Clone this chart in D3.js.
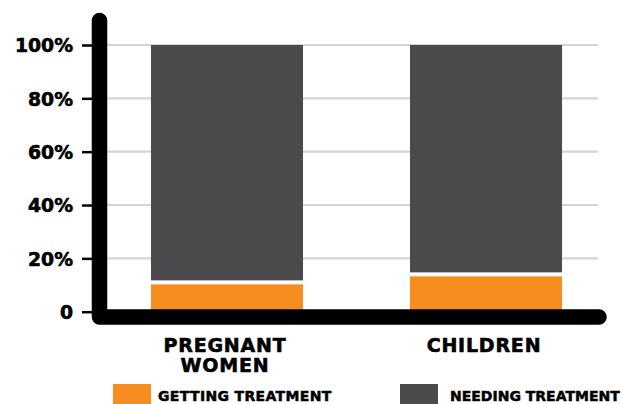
<!DOCTYPE html>
<html><head><meta charset="utf-8">
<script src="https://cdn.jsdelivr.net/npm/d3@7"></script>
<style>html,body{margin:0;padding:0;background:#fff;overflow:hidden}</style>
</head><body>
<svg id="c" width="623" height="404"></svg>
<script>
const categories = ["PREGNANT WOMEN", "CHILDREN"];
const gettingTreatment = [11, 14];
const needingTreatment = [89, 86];
const tickValues = [0, 20, 40, 60, 80, 100];
const legendLabels = ["GETTING TREATMENT", "NEEDING TREATMENT"];
const colors = ["#F58D21", "#4D4A4E"];

const svg = d3.select("#c");
const font = "'DejaVu Sans', sans-serif";
const y = d3.scaleLinear().domain([0, 100]).range([311.7, 45]);
const x = d3.scaleBand().domain(categories).range([98, 615]).paddingInner(0.413).paddingOuter(0.2045);

// gridlines
svg.append("g").selectAll("line").data(tickValues.filter(d => d > 0)).join("line")
  .attr("x1", 107).attr("x2", 598)
  .attr("y1", d => y(d)).attr("y2", d => y(d))
  .attr("stroke", "#d4d4d4").attr("stroke-width", 2.2);

// bars
const gap = 2;
categories.forEach((c, i) => {
  const g = gettingTreatment[i], n = needingTreatment[i];
  svg.append("rect").attr("x", x(c)).attr("width", x.bandwidth())
    .attr("y", y(g) + gap).attr("height", y(0) - y(g) - gap).attr("fill", colors[0]);
  svg.append("rect").attr("x", x(c)).attr("width", x.bandwidth())
    .attr("y", y(g + n)).attr("height", y(g) - gap - y(g + n)).attr("fill", colors[1]);
});

// y axis ticks and labels
const ax = svg.append("g").attr("transform", "translate(92,0)")
  .call(d3.axisLeft(y).tickValues(tickValues).tickSize(10).tickPadding(9)
    .tickFormat(d => d === 0 ? "0" : d + "%"));
ax.select(".domain").remove();
ax.selectAll(".tick line").attr("stroke", "#000").attr("stroke-width", 2.5);
ax.selectAll(".tick text").attr("fill", "#000").attr("font-family", font)
  .attr("font-weight", "bold").attr("font-size", 18.8).attr("dy", "0.36em")
  .attr("stroke", "#000").attr("stroke-width", 0.6);

// thick axis frame
svg.append("path")
  .attr("d", `M99.5,20.5 L99.5,${y(0) + 5.3} L599,${y(0) + 5.3}`)
  .attr("fill", "none").attr("stroke", "#000").attr("stroke-width", 15.5)
  .attr("stroke-linecap", "round").attr("stroke-linejoin", "round");

// category labels
categories.forEach(c => {
  const words = c.split(" ");
  const lines = words.length > 1 ? [words[0], words.slice(1).join(" ")] : [c];
  const t = svg.append("text").attr("text-anchor", "middle").attr("font-family", font)
    .attr("font-weight", "bold").attr("font-size", 19).attr("letter-spacing", 0.8)
    .attr("fill", "#000").attr("stroke", "#000").attr("stroke-width", 0.6);
  lines.forEach((l, k) => t.append("tspan").attr("x", x(c) + x.bandwidth() / 2 - 2)
    .attr("y", 351.5 + k * 20.5).text(l));
});

// legend
const legX = [113, 400];
const legTX = [158, 450];
const legLS = [0.35, 0];
legendLabels.forEach((l, i) => {
  svg.append("rect").attr("x", legX[i]).attr("y", 384).attr("width", 38).attr("height", 22)
    .attr("fill", colors[i]);
  svg.append("text").attr("x", legTX[i]).attr("y", 401.3).attr("font-family", font)
    .attr("font-weight", "bold").attr("font-size", 14).attr("letter-spacing", legLS[i])
    .attr("fill", "#000").attr("stroke", "#000").attr("stroke-width", 0.5).text(l);
});
</script>
</body></html>
